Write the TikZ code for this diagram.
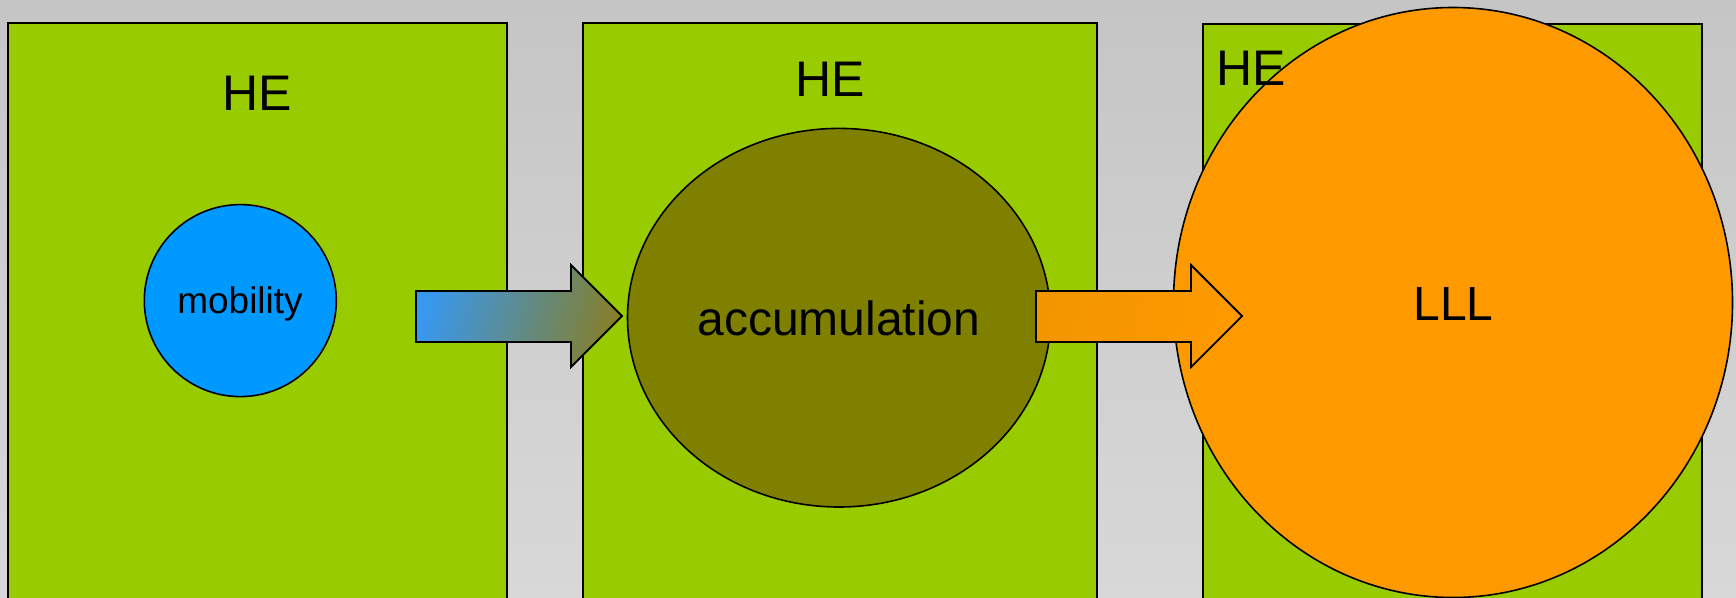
\documentclass[tikz,border=0pt]{standalone}
\usepackage{fontspec}
\setmainfont{Liberation Sans}
\usetikzlibrary{shapes.geometric}
\definecolor{bgtop}{HTML}{C5C5C5}
\definecolor{bgbot}{HTML}{D8D8D8}
\definecolor{hegreen}{HTML}{99CC00}
\definecolor{mobblue}{HTML}{0099FF}
\definecolor{accolive}{HTML}{808000}
\definecolor{llorange}{HTML}{FF9900}
\definecolor{arblue}{HTML}{3898EE}
\definecolor{armid}{HTML}{5E8DB8}
\definecolor{arolive}{HTML}{857F2C}
\definecolor{aroleft}{HTML}{F29600}
\definecolor{arodark}{HTML}{C08400}
\tikzset{
  hebox/.style={draw=black,line width=2pt,fill=hegreen},
  blob/.style={ellipse,draw=black,line width=1.6pt,inner sep=0pt},
  lbl/.style={anchor=base,inner sep=0pt,text=black},
  blockarrow/.style={draw=black,line width=1.8pt,line join=miter}
}
\begin{document}
\begin{tikzpicture}[x=1pt,y=-1pt]
\clip (0,0) rectangle (1736,597);
\useasboundingbox (0,0) rectangle (1736,597);
\shade[top color=bgtop,bottom color=bgbot] (0,0) rectangle (1736,597);
% HE boxes
\draw[hebox] (8,23) coordinate (b1a) rectangle (507,620) coordinate (b1b);
\draw[hebox] (583,23) coordinate (b2a) rectangle (1097,620) coordinate (b2b);
\draw[hebox] (1203,24) coordinate (b3a) rectangle (1702,620) coordinate (b3b);
\node[lbl,font=\fontsize{50}{60}\selectfont] (he1) at (257,110) {HE};
\node[lbl,font=\fontsize{50}{60}\selectfont] (he2) at (830,96) {HE};
% mobility
\node[blob,fill=mobblue,minimum width=192pt,minimum height=192pt] (mob) at (240.3,300.6) {};
\node[lbl,font=\fontsize{37}{45}\selectfont] (mobt) at (240,313) {mobility};
% accumulation
\node[blob,fill=accolive,minimum width=423pt,minimum height=378.6pt] (acc) at (839,317.7) {};
\node[lbl,font=\fontsize{48}{58}\selectfont] (acct) at (839,335.7) {accumulation};
% LLL
\node[blob,fill=llorange,minimum width=559pt,minimum height=590pt] (lll) at (1453,302.5) {};
\node[lbl,font=\fontsize{48}{58}\selectfont] (lllt) at (1453.4,320.7) {LLL};
\node[lbl,font=\fontsize{50}{60}\selectfont] (he3) at (1251,85) {HE};
% arrows
\path[blockarrow,left color=arblue,middle color=armid,right color=arolive,shading angle=75]
  (416,291) coordinate (a1s) -- (571,291) -- (571,265) -- (622,316) coordinate (a1t) -- (571,367) -- (571,342) -- (416,342) -- cycle;
\path[blockarrow,left color=aroleft,middle color=arodark,right color=llorange,shading angle=75]
  (1036,291) coordinate (a2s) -- (1191,291) -- (1191,265) -- (1242,316) coordinate (a2t) -- (1191,367) -- (1191,342) -- (1036,342) -- cycle;
\end{tikzpicture}
\end{document}
